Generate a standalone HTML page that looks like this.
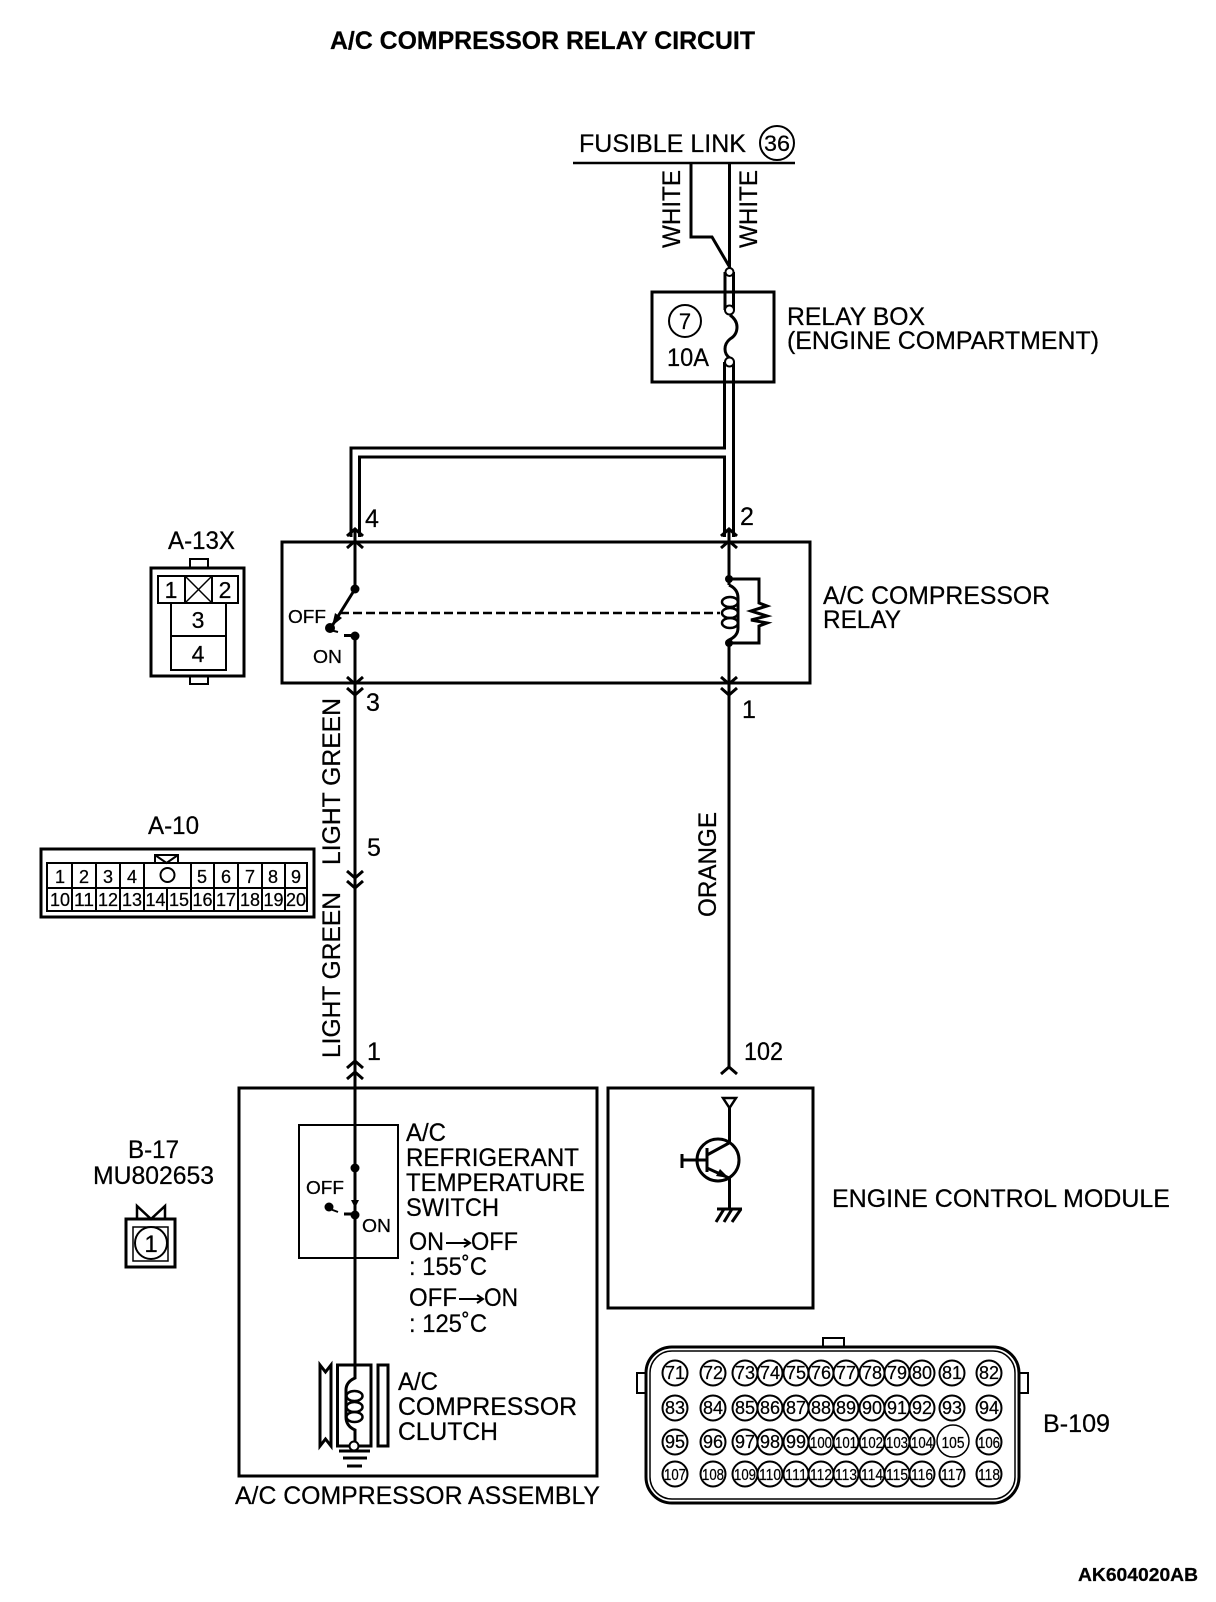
<!DOCTYPE html>
<html>
<head>
<meta charset="utf-8">
<style>
html,body{margin:0;padding:0;background:#fff;}
svg{display:block;}
text{font-family:"Liberation Sans",sans-serif;fill:#000;stroke:#000;stroke-width:.25;}
.w{fill:none;stroke:#000;stroke-width:3;}
.t{fill:none;stroke:#000;stroke-width:2;}
.h{fill:none;stroke:#000;stroke-width:1.5;}
.k{fill:none;stroke:#000;stroke-width:2.5;}
.d{fill:#000;stroke:none;}
.o{fill:#fff;stroke:#000;stroke-width:2;}
.a{font-size:25px;}
.b{font-size:18px;}
.c text{text-anchor:middle;font-size:18px;}
.c circle{fill:none;stroke:#000;stroke-width:2;}
.e text{text-anchor:middle;font-size:16px;}
.e circle{fill:none;stroke:#000;stroke-width:2;}
.n text{text-anchor:middle;font-size:18px;}
</style>
</head>
<body>
<svg width="1216" height="1602" viewBox="0 0 1216 1602" xmlns="http://www.w3.org/2000/svg">
<rect width="1216" height="1602" fill="#fff"/>

<!-- Title -->
<text x="330" y="49" font-size="25" font-weight="700" textLength="425" lengthAdjust="spacingAndGlyphs">A/C COMPRESSOR RELAY CIRCUIT</text>

<!-- Fusible link -->
<text class="a" x="579" y="152" textLength="167" lengthAdjust="spacingAndGlyphs">FUSIBLE LINK</text>
<circle class="t" cx="777" cy="143" r="17"/>
<text x="777" y="151" font-size="22" text-anchor="middle" textLength="26" lengthAdjust="spacingAndGlyphs">36</text>
<line x1="573" y1="163" x2="795" y2="163" stroke="#000" stroke-width="2.5"/>
<polyline class="w" points="691,163 691,237 712,237 729,266"/>
<line class="w" x1="729.5" y1="163" x2="729.5" y2="268"/>
<text class="a" transform="translate(680,248) rotate(-90)" textLength="78" lengthAdjust="spacingAndGlyphs">WHITE</text>
<text class="a" transform="translate(757,248) rotate(-90)" textLength="78" lengthAdjust="spacingAndGlyphs">WHITE</text>

<!-- Relay box -->
<rect class="w" x="652" y="292" width="122" height="90"/>
<circle class="t" cx="685" cy="321" r="16"/>
<text x="685" y="329" font-size="22" text-anchor="middle">7</text>
<text class="a" x="667" y="366" textLength="42" lengthAdjust="spacingAndGlyphs">10A</text>
<text class="a" x="787" y="325" textLength="138" lengthAdjust="spacingAndGlyphs">RELAY BOX</text>
<text class="a" x="787" y="349" textLength="312" lengthAdjust="spacingAndGlyphs">(ENGINE COMPARTMENT)</text>

<line class="w" x1="725" y1="272" x2="725" y2="310"/>
<line class="w" x1="733.5" y1="272" x2="733.5" y2="310"/>
<path class="w" d="M730 315 Q737 320 737 327 Q737 335 730 339 Q725 343 725 349 Q725 355 730 358"/>
<polyline class="w" points="351,537 351,448 724.5,448 724.5,362"/>
<line class="w" x1="733.5" y1="362" x2="733.5" y2="537"/>
<polyline class="w" points="359.5,537 359.5,457 724.5,457 724.5,537"/>
<circle class="o" cx="729.5" cy="272" r="4"/>
<circle class="o" cx="729.5" cy="310" r="4.5"/>
<circle class="o" cx="729.5" cy="362" r="4.5"/>

<!-- Relay -->
<rect class="w" x="282" y="542" width="528" height="141"/>
<text class="a" x="365" y="527">4</text>
<text class="a" x="740" y="525">2</text>
<text class="a" x="366" y="711">3</text>
<text class="a" x="742" y="718">1</text>

<polyline class="w" points="347,536 355,529 363,536"/>
<polyline class="w" points="347,548 355,541 363,548"/>
<polyline class="w" points="721,536 729,529 737,536"/>
<polyline class="w" points="721,548 729,541 737,548"/>
<polyline class="w" points="347,677 355,684 363,677"/>
<polyline class="w" points="347,688 355,695 363,688"/>
<polyline class="w" points="721,677 729,684 737,677"/>
<polyline class="w" points="721,688 729,695 737,688"/>

<line class="w" x1="355" y1="530" x2="355" y2="589"/>
<circle class="d" cx="355" cy="589" r="4.5"/>
<line class="w" x1="355" y1="589" x2="332" y2="626"/>
<polygon class="d" points="332,626 335,613 342,618"/>
<circle class="d" cx="330" cy="628" r="5"/>
<line class="t" x1="330" y1="630" x2="338" y2="632"/>
<line class="w" x1="344" y1="635.5" x2="355" y2="635.5"/>
<circle class="d" cx="355" cy="636" r="4.5"/>
<line class="w" x1="355" y1="636" x2="355" y2="1088"/>
<line x1="340" y1="613" x2="720" y2="613" stroke="#000" stroke-width="2.5" stroke-dasharray="9 4"/>
<text class="b" x="288" y="623" textLength="38" lengthAdjust="spacingAndGlyphs">OFF</text>
<text class="b" x="313" y="663" textLength="29" lengthAdjust="spacingAndGlyphs">ON</text>

<line class="w" x1="729" y1="530" x2="729" y2="585"/>
<circle class="d" cx="729" cy="579" r="4"/>
<circle class="d" cx="729" cy="643" r="4"/>
<path class="w" d="M729 585 Q738 589 738 598 V628 Q738 636 729 640 V643"/>
<ellipse class="k" cx="730" cy="602" rx="8" ry="5"/>
<ellipse class="k" cx="730" cy="613" rx="8" ry="5"/>
<ellipse class="k" cx="730" cy="623" rx="8" ry="5"/>
<path class="w" d="M729 579 H759 V603 L767 606 L751 611 L767 616 L751 620 L767 623 L759 626 V643 H729"/>
<line class="w" x1="729" y1="643" x2="729" y2="1067"/>
<text class="a" x="823" y="604" textLength="227" lengthAdjust="spacingAndGlyphs">A/C COMPRESSOR</text>
<text class="a" x="823" y="628" textLength="78" lengthAdjust="spacingAndGlyphs">RELAY</text>

<!-- A-13X -->
<text class="a" x="168" y="549" textLength="67" lengthAdjust="spacingAndGlyphs">A-13X</text>
<rect class="w" x="151" y="568" width="93" height="108"/>
<polyline class="t" points="190,568 190,559 208,559 208,568"/>
<polyline class="t" points="190,676 190,684 208,684 208,676"/>
<rect class="t" x="158" y="576" width="80" height="27"/>
<line class="t" x1="185" y1="576" x2="185" y2="603"/>
<line class="t" x1="212" y1="576" x2="212" y2="603"/>
<line class="h" x1="185" y1="576" x2="212" y2="603"/>
<line class="h" x1="212" y1="576" x2="185" y2="603"/>
<rect class="t" x="171" y="603" width="55" height="67"/>
<line class="t" x1="171" y1="636" x2="226" y2="636"/>
<g class="n">
<text x="171" y="598" style="font-size:23px">1</text>
<text x="225" y="598" style="font-size:23px">2</text>
<text x="198" y="628" style="font-size:23px">3</text>
<text x="198" y="662" style="font-size:23px">4</text>
</g>

<!-- A-10 -->
<text class="a" x="148" y="834" textLength="51" lengthAdjust="spacingAndGlyphs">A-10</text>
<rect class="w" x="41" y="849" width="273" height="68"/>
<polyline class="t" points="155,863 155,855 178,855 178,863"/>
<polyline class="t" points="155,855 166.5,863 178,855"/>
<rect class="t" x="47" y="863" width="260" height="48"/>
<line class="t" x1="47" y1="888" x2="307" y2="888"/>
<path class="t" d="M72 863V911M96 863V911M120 863V911M144 863V911M191 863V911M214 863V911M238 863V911M262 863V911M285 863V911M167 888V911"/>
<circle class="t" cx="167.5" cy="875" r="7"/>
<g class="n">
<text x="60" y="883">1</text><text x="84" y="883">2</text><text x="108" y="883">3</text><text x="132" y="883">4</text>
<text x="202" y="883">5</text><text x="226" y="883">6</text><text x="250" y="883">7</text><text x="273" y="883">8</text><text x="296" y="883">9</text>
<text x="60" y="906" textLength="20" lengthAdjust="spacingAndGlyphs">10</text>
<text x="84" y="906" textLength="20" lengthAdjust="spacingAndGlyphs">11</text>
<text x="108" y="906" textLength="20" lengthAdjust="spacingAndGlyphs">12</text>
<text x="132" y="906" textLength="20" lengthAdjust="spacingAndGlyphs">13</text>
<text x="155.5" y="906" textLength="20" lengthAdjust="spacingAndGlyphs">14</text>
<text x="179" y="906" textLength="20" lengthAdjust="spacingAndGlyphs">15</text>
<text x="202.5" y="906" textLength="20" lengthAdjust="spacingAndGlyphs">16</text>
<text x="226" y="906" textLength="20" lengthAdjust="spacingAndGlyphs">17</text>
<text x="250" y="906" textLength="20" lengthAdjust="spacingAndGlyphs">18</text>
<text x="273.5" y="906" textLength="20" lengthAdjust="spacingAndGlyphs">19</text>
<text x="296" y="906" textLength="20" lengthAdjust="spacingAndGlyphs">20</text>
</g>

<!-- Wire labels -->
<text class="a" transform="translate(340,865) rotate(-90)" textLength="167" lengthAdjust="spacingAndGlyphs">LIGHT GREEN</text>
<text class="a" transform="translate(340,1058) rotate(-90)" textLength="166" lengthAdjust="spacingAndGlyphs">LIGHT GREEN</text>
<text class="a" transform="translate(716,917) rotate(-90)" textLength="105" lengthAdjust="spacingAndGlyphs">ORANGE</text>
<text class="a" x="367" y="856">5</text>
<polyline class="w" points="347,871 355,878 363,871"/>
<polyline class="w" points="347,881 355,888 363,881"/>
<text class="a" x="367" y="1060">1</text>
<text class="a" x="744" y="1060" textLength="39" lengthAdjust="spacingAndGlyphs">102</text>
<polyline class="w" points="347,1068 355,1061 363,1068"/>
<polyline class="w" points="347,1079 355,1072 363,1079"/>
<polyline class="w" points="721,1074 729,1067 737,1074"/>

<!-- Compressor assembly -->
<rect class="w" x="239" y="1088" width="358" height="388"/>
<rect class="t" x="299" y="1125" width="99" height="133"/>
<line class="w" x1="355" y1="1072" x2="355" y2="1365"/>
<circle class="d" cx="355" cy="1168" r="4.5"/>
<circle class="d" cx="355" cy="1215" r="4.5"/>
<polygon class="d" points="351,1200 359,1200 355,1208"/>
<line class="w" x1="344" y1="1214" x2="355" y2="1214"/>
<circle class="d" cx="329" cy="1207" r="4.5"/>
<line class="t" x1="330" y1="1209" x2="338" y2="1212"/>
<text class="b" x="306" y="1194" textLength="38" lengthAdjust="spacingAndGlyphs">OFF</text>
<text class="b" x="362" y="1232" textLength="29" lengthAdjust="spacingAndGlyphs">ON</text>
<text class="a" x="406" y="1141" textLength="40" lengthAdjust="spacingAndGlyphs">A/C</text>
<text class="a" x="406" y="1166" textLength="173" lengthAdjust="spacingAndGlyphs">REFRIGERANT</text>
<text class="a" x="406" y="1191" textLength="179" lengthAdjust="spacingAndGlyphs">TEMPERATURE</text>
<text class="a" x="406" y="1216" textLength="93" lengthAdjust="spacingAndGlyphs">SWITCH</text>

<text class="a" x="409" y="1250" textLength="35" lengthAdjust="spacingAndGlyphs">ON</text>
<path class="t" d="M446 1243 H469 M464 1239 L470 1243 L464 1247"/>
<text class="a" x="471" y="1250" textLength="47" lengthAdjust="spacingAndGlyphs">OFF</text>
<text class="a" x="409" y="1275" textLength="78" lengthAdjust="spacingAndGlyphs">: 155˚C</text>
<text class="a" x="409" y="1306" textLength="48" lengthAdjust="spacingAndGlyphs">OFF</text>
<path class="t" d="M459 1299 H482 M477 1295 L483 1299 L477 1303"/>
<text class="a" x="484" y="1306" textLength="34" lengthAdjust="spacingAndGlyphs">ON</text>
<text class="a" x="409" y="1332" textLength="78" lengthAdjust="spacingAndGlyphs">: 125˚C</text>

<!-- Clutch -->
<path class="w" d="M320 1365 L325.5 1372 L331 1365 V1446 L325.5 1439 L320 1446 Z"/>
<rect class="w" x="337.5" y="1365" width="33.5" height="81"/>
<rect class="w" x="378" y="1365" width="10" height="81"/>
<path class="w" d="M355 1365 V1378 Q346 1382 346 1390 V1417 Q346 1426 355 1430 V1442"/>
<ellipse class="k" cx="354.5" cy="1396" rx="8" ry="5"/>
<ellipse class="k" cx="354.5" cy="1407" rx="8" ry="5"/>
<ellipse class="k" cx="354.5" cy="1417" rx="8" ry="5"/>
<circle class="o" cx="354" cy="1446" r="4.5"/>
<line class="w" x1="339" y1="1451" x2="370" y2="1451"/>
<line class="w" x1="343" y1="1458" x2="367" y2="1458"/>
<line class="w" x1="347" y1="1466" x2="362" y2="1466"/>
<text class="a" x="398" y="1390" textLength="40" lengthAdjust="spacingAndGlyphs">A/C</text>
<text class="a" x="398" y="1415" textLength="179" lengthAdjust="spacingAndGlyphs">COMPRESSOR</text>
<text class="a" x="398" y="1440" textLength="100" lengthAdjust="spacingAndGlyphs">CLUTCH</text>
<text class="a" x="235" y="1504" textLength="365" lengthAdjust="spacingAndGlyphs">A/C COMPRESSOR ASSEMBLY</text>

<!-- ECM -->
<rect class="w" x="608" y="1088" width="205" height="220"/>
<polygon class="k" points="723,1098 736,1098 729.5,1108"/>
<line class="w" x1="729.5" y1="1108" x2="729.5" y2="1143"/>
<circle class="w" cx="718" cy="1160" r="21"/>
<line class="w" x1="707" y1="1148" x2="707" y2="1172"/>
<line class="w" x1="682" y1="1160" x2="707" y2="1160"/>
<line class="w" x1="682" y1="1154" x2="682" y2="1168"/>
<line class="w" x1="707" y1="1155" x2="729" y2="1143"/>
<line class="w" x1="707" y1="1168" x2="729" y2="1178"/>
<polygon class="d" points="729,1178 716,1176 720,1169"/>
<line class="w" x1="729.5" y1="1178" x2="729.5" y2="1209"/>
<line class="w" x1="717" y1="1209" x2="742" y2="1209"/>
<path class="w" d="M724 1209 L716 1222 M732 1209 L724 1222 M741 1209 L732 1222"/>
<text class="a" x="832" y="1207" textLength="338" lengthAdjust="spacingAndGlyphs">ENGINE CONTROL MODULE</text>

<!-- B-17 -->
<text class="a" x="128" y="1158" textLength="51" lengthAdjust="spacingAndGlyphs">B-17</text>
<text class="a" x="93" y="1184" textLength="121" lengthAdjust="spacingAndGlyphs">MU802653</text>
<polyline class="k" points="137,1219 137,1206 151,1219 165,1206 165,1219"/>
<rect class="w" x="126" y="1219" width="49" height="48"/>
<rect class="h" x="133" y="1227" width="35" height="34"/>
<circle class="t" cx="151" cy="1243" r="16"/>
<text x="151" y="1252" font-size="24" text-anchor="middle">1</text>

<!-- B-109 -->
<polyline class="t" points="823,1347 823,1338 844,1338 844,1347"/>
<polyline class="t" points="646,1373 637,1373 637,1393 646,1393"/>
<polyline class="t" points="1019,1373 1028,1373 1028,1393 1019,1393"/>
<rect x="646" y="1347" width="373" height="156" rx="26" ry="26" fill="#fff" stroke="#000" stroke-width="3"/>
<rect x="650" y="1351" width="365" height="148" rx="22" ry="22" fill="none" stroke="#000" stroke-width="1.5"/>
<g class="c">
<circle cx="675" cy="1373" r="12.5"/><circle cx="713" cy="1373" r="12.5"/><circle cx="745" cy="1373" r="12.5"/><circle cx="770" cy="1373" r="12.5"/><circle cx="796" cy="1373" r="12.5"/><circle cx="821" cy="1373" r="12.5"/><circle cx="846" cy="1373" r="12.5"/><circle cx="872" cy="1373" r="12.5"/><circle cx="897" cy="1373" r="12.5"/><circle cx="922" cy="1373" r="12.5"/><circle cx="952" cy="1373" r="12.5"/><circle cx="989" cy="1373" r="12.5"/>
<text x="675" y="1379" textLength="20" lengthAdjust="spacingAndGlyphs">71</text><text x="713" y="1379" textLength="20" lengthAdjust="spacingAndGlyphs">72</text><text x="745" y="1379" textLength="20" lengthAdjust="spacingAndGlyphs">73</text><text x="770" y="1379" textLength="20" lengthAdjust="spacingAndGlyphs">74</text><text x="796" y="1379" textLength="20" lengthAdjust="spacingAndGlyphs">75</text><text x="821" y="1379" textLength="20" lengthAdjust="spacingAndGlyphs">76</text><text x="846" y="1379" textLength="20" lengthAdjust="spacingAndGlyphs">77</text><text x="872" y="1379" textLength="20" lengthAdjust="spacingAndGlyphs">78</text><text x="897" y="1379" textLength="20" lengthAdjust="spacingAndGlyphs">79</text><text x="922" y="1379" textLength="20" lengthAdjust="spacingAndGlyphs">80</text><text x="952" y="1379" textLength="20" lengthAdjust="spacingAndGlyphs">81</text><text x="989" y="1379" textLength="20" lengthAdjust="spacingAndGlyphs">82</text>
<circle cx="675" cy="1408" r="12.5"/><circle cx="713" cy="1408" r="12.5"/><circle cx="745" cy="1408" r="12.5"/><circle cx="770" cy="1408" r="12.5"/><circle cx="796" cy="1408" r="12.5"/><circle cx="821" cy="1408" r="12.5"/><circle cx="846" cy="1408" r="12.5"/><circle cx="872" cy="1408" r="12.5"/><circle cx="897" cy="1408" r="12.5"/><circle cx="922" cy="1408" r="12.5"/><circle cx="952" cy="1408" r="12.5"/><circle cx="989" cy="1408" r="12.5"/>
<text x="675" y="1414" textLength="20" lengthAdjust="spacingAndGlyphs">83</text><text x="713" y="1414" textLength="20" lengthAdjust="spacingAndGlyphs">84</text><text x="745" y="1414" textLength="20" lengthAdjust="spacingAndGlyphs">85</text><text x="770" y="1414" textLength="20" lengthAdjust="spacingAndGlyphs">86</text><text x="796" y="1414" textLength="20" lengthAdjust="spacingAndGlyphs">87</text><text x="821" y="1414" textLength="20" lengthAdjust="spacingAndGlyphs">88</text><text x="846" y="1414" textLength="20" lengthAdjust="spacingAndGlyphs">89</text><text x="872" y="1414" textLength="20" lengthAdjust="spacingAndGlyphs">90</text><text x="897" y="1414" textLength="20" lengthAdjust="spacingAndGlyphs">91</text><text x="922" y="1414" textLength="20" lengthAdjust="spacingAndGlyphs">92</text><text x="952" y="1414" textLength="20" lengthAdjust="spacingAndGlyphs">93</text><text x="989" y="1414" textLength="20" lengthAdjust="spacingAndGlyphs">94</text>
<circle cx="675" cy="1442" r="12.5"/><circle cx="713" cy="1442" r="12.5"/><circle cx="745" cy="1442" r="12.5"/><circle cx="770" cy="1442" r="12.5"/><circle cx="796" cy="1442" r="12.5"/>
<text x="675" y="1448" textLength="20" lengthAdjust="spacingAndGlyphs">95</text><text x="713" y="1448" textLength="20" lengthAdjust="spacingAndGlyphs">96</text><text x="745" y="1448" textLength="20" lengthAdjust="spacingAndGlyphs">97</text><text x="770" y="1448" textLength="20" lengthAdjust="spacingAndGlyphs">98</text><text x="796" y="1448" textLength="20" lengthAdjust="spacingAndGlyphs">99</text>
</g>
<g class="e">
<circle cx="821" cy="1442" r="12.5"/><circle cx="846" cy="1442" r="12.5"/><circle cx="872" cy="1442" r="12.5"/><circle cx="897" cy="1442" r="12.5"/><circle cx="922" cy="1442" r="12.5"/><circle cx="953" cy="1441" r="16" style="stroke-width:1.5"/><circle cx="989" cy="1442" r="12.5"/>
<text x="821" y="1448" textLength="22" lengthAdjust="spacingAndGlyphs">100</text><text x="846" y="1448" textLength="22" lengthAdjust="spacingAndGlyphs">101</text><text x="872" y="1448" textLength="22" lengthAdjust="spacingAndGlyphs">102</text><text x="897" y="1448" textLength="22" lengthAdjust="spacingAndGlyphs">103</text><text x="922" y="1448" textLength="22" lengthAdjust="spacingAndGlyphs">104</text><text x="953" y="1448" textLength="23" lengthAdjust="spacingAndGlyphs">105</text><text x="989" y="1448" textLength="22" lengthAdjust="spacingAndGlyphs">106</text>
<circle cx="675" cy="1474" r="12.5"/><circle cx="713" cy="1474" r="12.5"/><circle cx="745" cy="1474" r="12.5"/><circle cx="770" cy="1474" r="12.5"/><circle cx="796" cy="1474" r="12.5"/><circle cx="821" cy="1474" r="12.5"/><circle cx="846" cy="1474" r="12.5"/><circle cx="872" cy="1474" r="12.5"/><circle cx="897" cy="1474" r="12.5"/><circle cx="922" cy="1474" r="12.5"/><circle cx="952" cy="1474" r="12.5"/><circle cx="989" cy="1474" r="12.5"/>
<text x="675" y="1480" textLength="22" lengthAdjust="spacingAndGlyphs">107</text><text x="713" y="1480" textLength="22" lengthAdjust="spacingAndGlyphs">108</text><text x="745" y="1480" textLength="22" lengthAdjust="spacingAndGlyphs">109</text><text x="770" y="1480" textLength="22" lengthAdjust="spacingAndGlyphs">110</text><text x="796" y="1480" textLength="22" lengthAdjust="spacingAndGlyphs">111</text><text x="821" y="1480" textLength="22" lengthAdjust="spacingAndGlyphs">112</text><text x="846" y="1480" textLength="22" lengthAdjust="spacingAndGlyphs">113</text><text x="872" y="1480" textLength="22" lengthAdjust="spacingAndGlyphs">114</text><text x="897" y="1480" textLength="22" lengthAdjust="spacingAndGlyphs">115</text><text x="922" y="1480" textLength="22" lengthAdjust="spacingAndGlyphs">116</text><text x="952" y="1480" textLength="22" lengthAdjust="spacingAndGlyphs">117</text><text x="989" y="1480" textLength="22" lengthAdjust="spacingAndGlyphs">118</text>
</g>
<text class="a" x="1043" y="1432" textLength="67" lengthAdjust="spacingAndGlyphs">B-109</text>

<text x="1078" y="1581" font-size="18" font-weight="700" textLength="120" lengthAdjust="spacingAndGlyphs">AK604020AB</text>
</svg>
</body>
</html>
